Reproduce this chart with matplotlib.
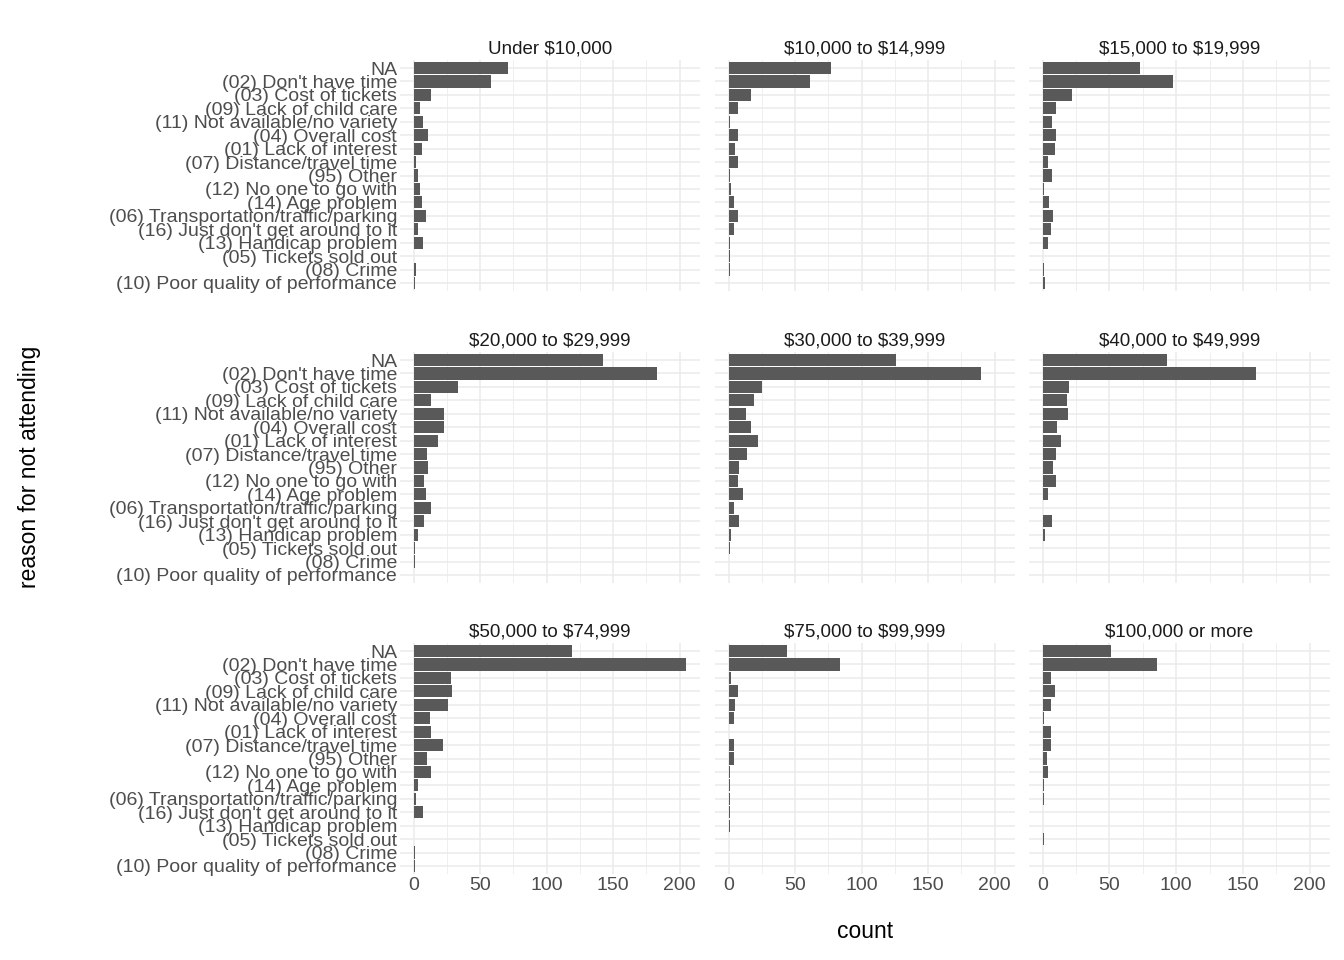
import matplotlib.pyplot as plt
import numpy as np

plt.rcParams['text.parse_math'] = False
plt.rcParams['font.family'] = ['Liberation Sans', 'DejaVu Sans']

reasons = ["NA", "(02) Don't have time", "(03) Cost of tickets", "(09) Lack of child care",
           "(11) Not available/no variety", "(04) Overall cost", "(01) Lack of interest",
           "(07) Distance/travel time", "(95) Other", "(12) No one to go with",
           "(14) Age problem", "(06) Transportation/traffic/parking",
           "(16) Just don't get around to it", "(13) Handicap problem",
           "(05) Tickets sold out", "(08) Crime", "(10) Poor quality of performance"]

incomes = ["Under $10,000", "$10,000 to $14,999", "$15,000 to $19,999",
           "$20,000 to $29,999", "$30,000 to $39,999", "$40,000 to $49,999",
           "$50,000 to $74,999", "$75,000 to $99,999", "$100,000 or more"]

under_10k = [71, 58, 13, 5, 7, 11, 6, 2, 3, 5, 6, 9, 3, 7, 0, 2, 1]
k10_15 = [77, 61, 17, 7, 1, 7, 5, 7, 1, 2, 4, 7, 4, 1, 1, 1, 0]
k15_20 = [73, 98, 22, 10, 7, 10, 9, 4, 7, 1, 5, 8, 6, 4, 0, 1, 2]
k20_30 = [142, 183, 33, 13, 23, 23, 18, 10, 11, 8, 9, 13, 8, 3, 1, 1, 0]
k30_40 = [126, 190, 25, 19, 13, 17, 22, 14, 8, 7, 11, 4, 8, 2, 1, 0, 0]
k40_50 = [93, 160, 20, 18, 19, 11, 14, 10, 8, 10, 4, 0, 7, 2, 0, 0, 0]
k50_75 = [119, 205, 28, 29, 26, 12, 13, 22, 10, 13, 3, 2, 7, 0, 0, 1, 1]
k75_100 = [44, 84, 2, 7, 5, 4, 0, 4, 4, 1, 1, 1, 1, 1, 0, 0, 0]
k100_up = [51, 86, 6, 9, 6, 1, 6, 6, 3, 4, 1, 1, 0, 0, 1, 0, 0]
counts = [under_10k, k10_15, k15_20, k20_30, k30_40, k40_50, k50_75, k75_100, k100_up]

W, H = 1344, 960
fig = plt.figure(figsize=(13.44, 9.6), dpi=100)
cols = [(400, 700), (715, 1015), (1029, 1330)]
rows = [(60, 291), (352, 583), (643, 874)]
ypos = np.arange(len(reasons))[::-1]
xmax = 205 * 1.05
for i, (inc, vals) in enumerate(zip(incomes, counts)):
    r, c = divmod(i, 3)
    x0, x1 = cols[c]
    y0, y1 = rows[r]
    ax = fig.add_axes([x0 / W, 1 - y1 / H, (x1 - x0) / W, (y1 - y0) / H])
    for s in ax.spines.values():
        s.set_visible(False)
    ax.set_xlim(-205 * 0.05, xmax)
    ax.set_ylim(-0.6, len(reasons) - 0.4)
    ax.set_xticks([0, 50, 100, 150, 200])
    ax.set_xticks([25, 75, 125, 175], minor=True)
    ax.set_yticks(ypos)
    ax.grid(True, which="major", color="#ebebeb", lw=1.1)
    ax.grid(True, which="minor", axis="x", color="#ebebeb", lw=0.55)
    ax.set_axisbelow(True)
    ax.barh(ypos, vals, height=0.9, color="#595959")
    ax.tick_params(length=0, labelsize=14, labelcolor="#4d4d4d", pad=2, which="both")
    if c == 0:
        ax.set_yticklabels(reasons)
    else:
        ax.set_yticklabels([])
    if r < 2:
        ax.set_xticklabels([])
    ax.set_title(inc, fontsize=13.5, color="#1a1a1a", pad=5)

fig.text(865 / W, 1 - 931 / H, "count", fontsize=16.5, ha="center", va="center")
fig.text(30 / W, 1 - 467 / H, "reason for not attending", fontsize=16.5,
         rotation=90, ha="center", va="center")
fig.savefig("out.png", dpi=100)
